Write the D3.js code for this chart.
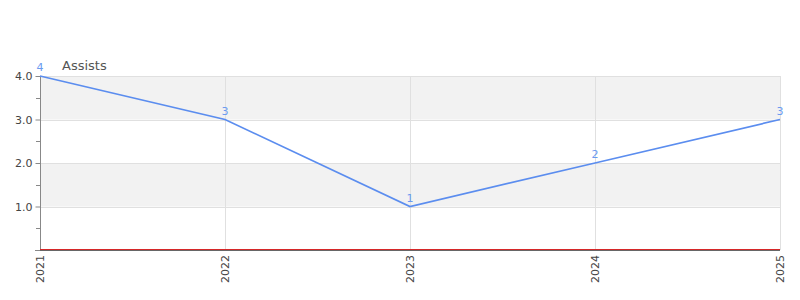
<!DOCTYPE html>
<html><head><meta charset="utf-8">
<script src="https://cdn.jsdelivr.net/npm/d3@7"></script>
<style>body{margin:0;background:#fff}svg{display:block;font-family:"DejaVu Sans",sans-serif}</style>
</head><body><svg id="c" width="800" height="300"></svg>
<script>
const years = ["2021","2022","2023","2024","2025"];
const assists = [4,3,1,2,3];
const yTicks = [1,2,3,4];
const seriesName = "Assists";

const svg = d3.select("#c");
const L=40,R=780,T=76,B=250;
const x = d3.scalePoint().domain(years).range([L,R]);
const y = d3.scaleLinear().domain([0,4]).range([B,T]);

// bands
const bands=[[3,4],[1,2]];
svg.selectAll("rect.band").data(bands).enter().append("rect")
  .attr("x",L).attr("width",R-L).attr("y",d=>y(d[1])).attr("height",d=>y(d[0])-y(d[1])).attr("fill","#f2f2f2");
// horizontal grid
svg.selectAll("line.hg").data(yTicks).enter().append("line")
  .attr("x1",L).attr("x2",R).attr("y1",d=>Math.round(y(d))+0.5).attr("y2",d=>Math.round(y(d))+0.5).attr("stroke","#e0e0e0");
// vertical grid
svg.selectAll("line.vg").data(years.slice(1)).enter().append("line")
  .attr("x1",d=>Math.round(x(d))+0.5).attr("x2",d=>Math.round(x(d))+0.5).attr("y1",T).attr("y2",B).attr("stroke","#e0e0e0");

// y axis
const ya = svg.append("g").attr("transform",`translate(${L+0.5},0)`)
  .call(d3.axisLeft(y).tickValues(yTicks).tickFormat(d3.format(".1f")).tickSize(5).tickPadding(3));
ya.select(".domain").attr("stroke","#888").attr("d",`M0,${T}V${B}`);
ya.selectAll(".tick line").attr("stroke","#888");
ya.selectAll("text").attr("fill","#444").style("font-size","11px").style("font-family","DejaVu Sans");
// minor ticks
const minor=[0.5,1.5,2.5,3.5];
svg.selectAll("line.mt").data(minor).enter().append("line")
  .attr("x1",L-4).attr("x2",L).attr("y1",d=>Math.round(y(d))+0.5).attr("y2",d=>Math.round(y(d))+0.5).attr("stroke","#888");
svg.append("line").attr("x1",L-5).attr("x2",L).attr("y1",B+0.5).attr("y2",B+0.5).attr("stroke","#888");

// x axis
const xa = svg.append("g").attr("transform",`translate(0,${B})`)
  .call(d3.axisBottom(x).tickSize(0).tickPadding(0));
xa.select(".domain").remove();
xa.selectAll("text").attr("fill","#444").style("font-size","11px").style("font-family","DejaVu Sans")
  .attr("transform","rotate(-90)").attr("text-anchor","end").attr("x",-5).attr("y",0).attr("dy","0.35em");
svg.append("line").attr("x1",L).attr("x2",R).attr("y1",B+0.5).attr("y2",B+0.5).attr("stroke","#666");
svg.append("line").attr("x1",L).attr("x2",R).attr("y1",B-0.5).attr("y2",B-0.5).attr("stroke","#d62728").attr("stroke-width",1);

// line
svg.append("path").datum(assists).attr("fill","none").attr("stroke","#5b8def").attr("stroke-width",1.7)
  .attr("d",d3.line().x((d,i)=>x(years[i])).y(d=>y(d)));
// labels
svg.selectAll("text.lbl").data(assists).enter().append("text")
  .attr("x",(d,i)=>x(years[i])).attr("y",d=>y(d)-5).attr("text-anchor","middle")
  .attr("fill","#6a9af0").style("font-size","11px").text(d=>d);
// title
svg.append("text").attr("x",62).attr("y",70).attr("fill","#555").style("font-size","13px").text(seriesName);
</script></body></html>
